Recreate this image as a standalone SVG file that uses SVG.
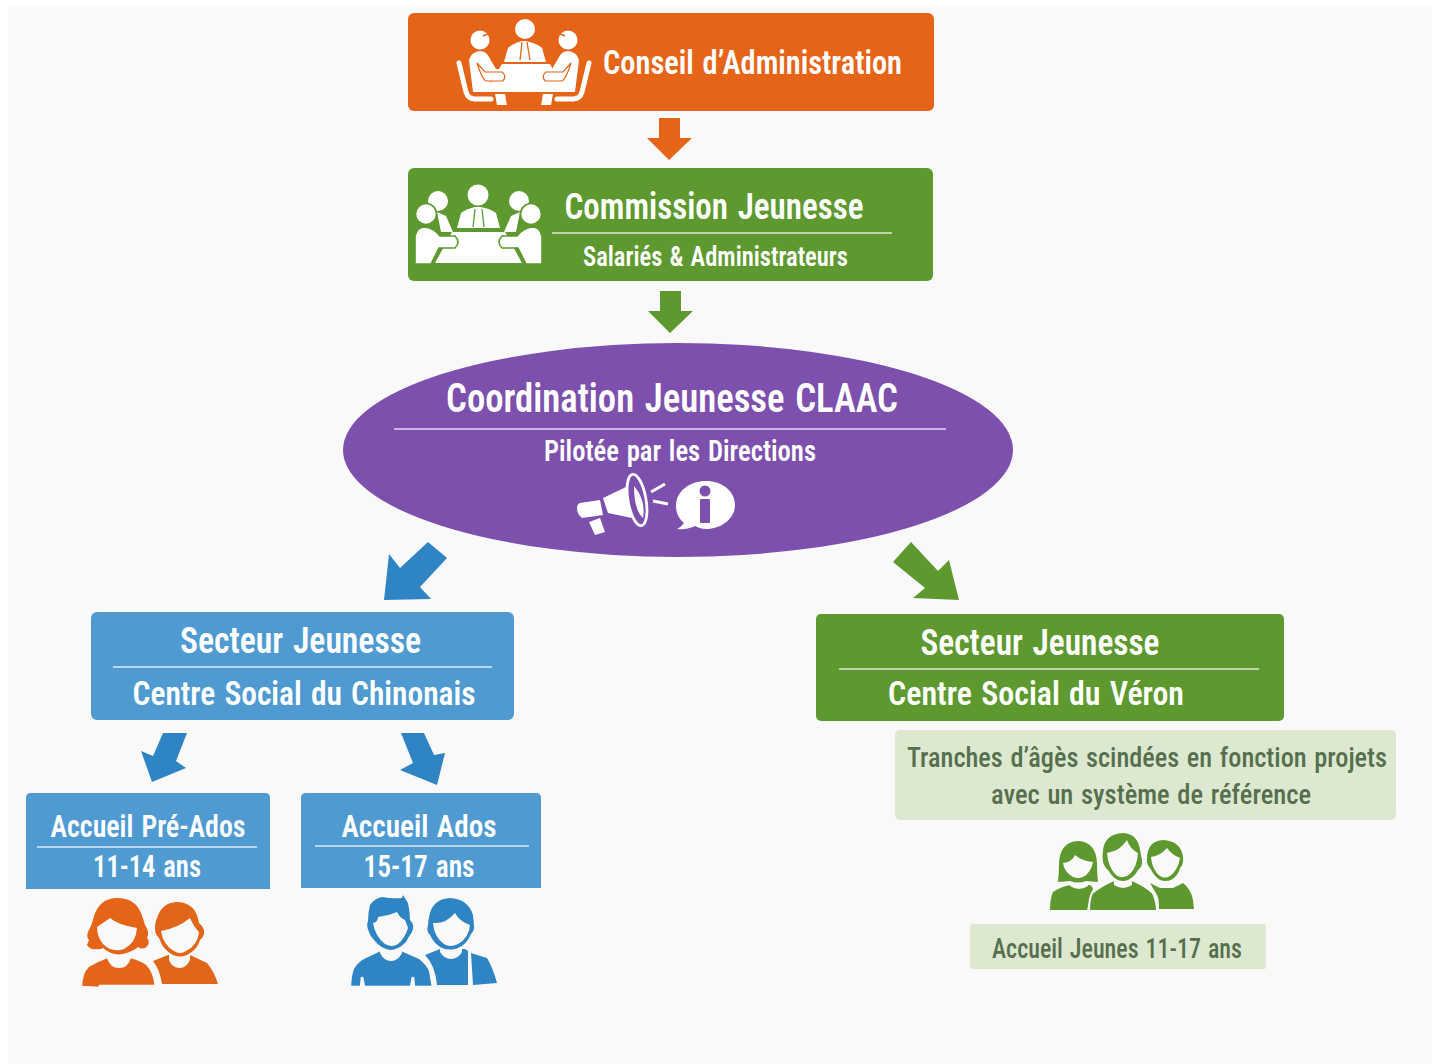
<svg xmlns="http://www.w3.org/2000/svg" width="1432" height="1064" viewBox="0 0 1432 1064">
<style>
text{font-family:"Liberation Sans Narrow","Roboto Condensed","Liberation Sans",sans-serif;font-weight:600;fill:#fff;text-anchor:middle;word-spacing:.06em}
.sub{fill:#566f4e;font-weight:500}
.rule{stroke:#fff;stroke-opacity:.8;stroke-width:1.4;fill:none}
.w{fill:#fff}
.org{fill:#e56417}.grn{fill:#5e992f}.blu{fill:#2f84c3}
.face{fill:#f9f9fa}
</style>
<rect width="1432" height="1064" fill="#fff"/>
<rect x="8" y="6" width="1424" height="1058" fill="#f9f9fa"/>

<g id="connectors">
<path class="org" d="M659 118H680V138H692L669 160L647 138H659Z"/>
<path class="grn" d="M660 291H681V311H693L670 333L648 311H660Z"/>
<path class="blu" d="M428 542L447 558L420 587L431 599L384 600L389 554L400 568Z"/>
<path class="grn" d="M893 562L911 542L938 571L949 560L959 600L913 598L925 588Z"/>
<path class="blu" d="M163 733H187L176 761L186 768L152 782L141 751L153 756Z"/>
<path class="blu" d="M401 733H424L434 755L445 753L437 785L400 770L413 763Z"/>
</g>

<g id="conseil">
<rect x="408" y="13" width="526" height="98" rx="6" fill="#e56417"/>
<circle class="w" cx="525" cy="29" r="10"/>
<path class="w" d="M504 62L508 48Q512 44 522 41L526 41Q538 44 542 48L546 62Z"/>
<path d="M522 42L520 60M527 42L530 60" stroke="#e56417" stroke-width="1.3" fill="none"/>
<path d="M502 64H550L565 92H485Z" class="w"/>
<g id="conseil-side">
<circle class="w" cx="480" cy="40" r="9.5"/>
<path d="M483 36L488 34" stroke="#e56417" stroke-width="1.5"/>
<path class="w" d="M469 60Q471 52 480 51Q486 51 489 57L496 69H503Q506 77 503 81H490L494 92H473Z"/>
<path d="M477 63L485 72H502Q507 76 503 81H486Q482 79 477 63Z" class="w" stroke="#e56417" stroke-width="1.2"/>
<path d="M459 63L466 92Q468 99 475 99H491" fill="none" stroke="#fff" stroke-width="5" stroke-linecap="round"/>
<path class="w" d="M495 94H505L507 105H497Z"/>
</g>
<use href="#conseil-side" transform="translate(1048 0) scale(-1 1)"/>
<text x="752.5" y="74" font-size="34" textLength="299" lengthAdjust="spacingAndGlyphs">Conseil d’Administration</text>
</g>

<g id="commission">
<rect x="408" y="168" width="525" height="113" rx="6" fill="#5e992f"/>
<circle class="w" cx="478" cy="195" r="10.500"/>
<path class="w" d="M457 228L461 213Q466 209 475 207L481 207Q491 209 496 213L500 228Z"/>
<path d="M475 209L473 227M482 209L484 227" stroke="#5e992f" stroke-width="1.300" fill="none"/>
<path class="w" d="M452 232H505L522 263H435Z"/>
<g id="commission-side">
<circle class="w" cx="438" cy="201" r="10"/>
<path class="w" d="M437 212L446 216L453 232L441 232Z"/>
<circle class="w" cx="426" cy="214" r="10.500" stroke="#5e992f" stroke-width="1.600"/>
<path class="w" stroke="#5e992f" stroke-width="1.600" d="M415 264V236Q417 227 425 227Q434 228 440 236H455Q461 242 455 248H439L431 264Z"/>
</g>
<use href="#commission-side" transform="translate(957 0) scale(-1 1)"/>
<text x="714" y="219" font-size="37" textLength="299" lengthAdjust="spacingAndGlyphs">Commission Jeunesse</text>
<path class="rule" d="M552 233H892"/>
<text x="715.5" y="266" font-size="27" textLength="265" lengthAdjust="spacingAndGlyphs">Salariés &amp; Administrateurs</text>
</g>

<g id="coordination">
<ellipse cx="678" cy="450" rx="335" ry="107" fill="#7c50ac"/>
<text x="672" y="412" font-size="40" textLength="452" lengthAdjust="spacingAndGlyphs">Coordination Jeunesse CLAAC</text>
<path class="rule" d="M394 429H946"/>
<text x="680" y="461" font-size="29" textLength="272" lengthAdjust="spacingAndGlyphs">Pilotée par les Directions</text>
<g class="w">
<path d="M577 508Q577 504 580 503L600 500L603 515L582 518Q577 514 577 508Z"/>
<path d="M603 498L626 487L632 518L608 513Z"/>
<path d="M589 522L600 518L605 532L595 535Z"/>
</g>
<ellipse cx="637" cy="500" rx="9" ry="26" transform="rotate(-10 637 500)" fill="#7c50ac" stroke="#fff" stroke-width="2.800"/>
<path class="w" d="M634 486Q646 500 643 518Q634 510 634 486Z"/>
<path d="M651 492L665 484M653 501L668 504" stroke="#fff" stroke-width="3" fill="none"/>
<path class="w" d="M706 481C690 481 676 491 676 506C676 513 679 519 684 523C682 526 679 528 677 529C683 530 691 528 695 526C699 528 702 529 706 529C722 529 735 518 735 505C735 491 722 481 706 481Z"/>
<circle cx="705" cy="491" r="5.500" fill="#7c50ac"/>
<rect x="700" y="499" width="10" height="24" rx="1" fill="#7c50ac"/>
</g>

<g id="secteur-chinonais">
<rect x="91" y="612" width="423" height="108" rx="6" fill="#4f9bd1"/>
<text x="300.500" y="653" font-size="37" textLength="241" lengthAdjust="spacingAndGlyphs">Secteur Jeunesse</text>
<path class="rule" d="M113 667H492"/>
<text x="304" y="705" font-size="34" textLength="343" lengthAdjust="spacingAndGlyphs">Centre Social du Chinonais</text>
</g>

<g id="secteur-veron">
<rect x="816" y="614" width="468" height="107" rx="5" fill="#5e992f"/>
<text x="1040" y="655" font-size="37" textLength="239" lengthAdjust="spacingAndGlyphs">Secteur Jeunesse</text>
<path class="rule" d="M839 669H1259"/>
<text x="1036" y="705" font-size="34" textLength="296" lengthAdjust="spacingAndGlyphs">Centre Social du Véron</text>
</g>

<g id="pre-ados">
<path d="M26 798Q26 793 31 793H265Q270 793 270 798V889H26Z" fill="#4f9bd1"/>
<text x="148" y="837" font-size="31" textLength="195" lengthAdjust="spacingAndGlyphs">Accueil Pré-Ados</text>
<path class="rule" d="M37 847H257"/>
<text x="147" y="877" font-size="31" textLength="108" lengthAdjust="spacingAndGlyphs">11-14 ans</text>
<path fill="#e0661a" d="M153 961L168 955H190L207 963Q214 971 218 984H162Q160 970 153 961Z"/>
<path d="M169 950H190V960Q186 968 180 968Q172 968 169 960Z" class="face"/>
<path fill="#e0661a" d="M178 902Q162 902 157 918Q155 922 155 929Q155 934 159 938Q163 950 173 955Q180 958 187 955Q197 950 200 940Q205 936 204 930Q203 926 199 923Q196 903 178 902Z"/>
<path class="face" d="M161 931Q178 928 190 918Q194 927 199 932Q198 945 186 951Q180 955 174 951Q163 945 161 931Z"/>
<path class="org" stroke="#f9f9fa" stroke-width="2.500" d="M81 987Q81 973 88 966Q96 961 107 957H131Q142 960 147 964Q154 971 156 986H100V988Z"/>
<path class="face" d="M107 950H131V958Q128 968 119 968Q110 968 107 958Z"/>
<path class="org" d="M117 898Q100 898 94 916Q92 924 90 928Q85 936 89 940L87 945Q90 950 96 949Q100 950 103 948Q112 956 123 954Q134 951 138 947Q144 951 148 945Q150 941 147 938Q150 932 145 925Q143 918 141 913Q135 898 117 898Z"/>
<path class="face" d="M97 927L110 918Q118 925 137 928Q136 943 124 949Q112 953 103 944Q97 937 97 927Z"/>
</g>

<g id="ados">
<path d="M301 798Q301 793 306 793H536Q541 793 541 798V888H301Z" fill="#4f9bd1"/>
<text x="419" y="837" font-size="31" textLength="155" lengthAdjust="spacingAndGlyphs">Accueil Ados</text>
<path class="rule" d="M315 846H529"/>
<text x="419" y="877" font-size="31" textLength="111" lengthAdjust="spacingAndGlyphs">15-17 ans</text>
<path class="blu" d="M425 955L440 949H465L468 951V985H437Q435 965 425 955ZM471 953L487 958Q493 968 497 983L473 985Z"/>
<path class="face" d="M440 946H462V952Q458 959 451 959Q444 959 440 952Z"/>
<path class="blu" d="M450 898Q434 899 430 913Q428 920 428 925Q426 931 430 935Q434 944 442 948Q450 951 458 948Q467 944 471 934Q475 930 474 925L473 915Q468 899 450 898Z"/>
<path class="face" d="M433 923Q446 924 455 913Q459 921 470 925Q469 938 458 944Q450 948 444 944Q434 937 433 923Z"/>
<path class="blu" stroke="#f9f9fa" stroke-width="2.500" d="M350 987Q350 976 353 968Q358 960 365 957L380 950H402L420 958Q427 964 430 970L433 987H414L413 977L411 987H364L362 977L361 987Z"/>
<path class="face" d="M380 946H402V953Q398 961 391 961Q384 961 380 953Z"/>
<path class="blu" d="M370 905Q375 898 382 897Q393 899 402 898L403 895L408 903Q410 912 410 920Q415 925 412 932Q408 938 406 942Q398 950 390 950Q380 948 374 940Q370 936 369 932Q366 926 368 921Q368 913 370 905Z"/>
<path class="face" d="M373 923Q378 922 378 917Q388 916 397 912Q400 918 405 920Q407 925 408 928Q405 938 398 944Q392 948 385 944Q375 936 373 923Z"/>
</g>

<g id="tranches">
<rect x="895" y="730" width="501" height="90" rx="5" fill="#dce8cf"/>
<text class="sub" x="1147" y="767" font-size="28" textLength="480" lengthAdjust="spacingAndGlyphs">Tranches d’âgès scindées en fonction projets</text>
<text class="sub" x="1151" y="804" font-size="28" textLength="320" lengthAdjust="spacingAndGlyphs">avec un système de référence</text>
</g>

<g id="jeunes">
<path class="grn" d="M1050 910Q1050 899 1053 892Q1060 887 1070 885H1090L1093 888L1087 910Z"/>
<path class="face" d="M1070 880H1088V886Q1079 892 1070 886Z"/>
<path class="grn" d="M1078 841Q1060 842 1059 863Q1059 873 1058 882L1070 881Q1078 884 1086 881L1098 882Q1097 873 1097 863Q1096 842 1078 841Z"/>
<path class="face" d="M1063 863Q1072 862 1075 855Q1082 861 1093 862Q1091 873 1083 877Q1078 879 1073 877Q1064 872 1063 863Z"/>
<path class="grn" d="M1150 883L1160 888H1173L1183 883Q1191 889 1193 900L1194 909H1159Q1159 898 1157 895Z"/>
<path class="face" d="M1158 878H1172V884Q1165 889 1158 884Z"/>
<path class="grn" d="M1163 840Q1148 841 1147 857Q1146 864 1150 868Q1154 876 1160 880Q1165 882 1171 880Q1178 876 1180 868Q1184 864 1183 857Q1181 841 1163 840Z"/>
<path class="face" d="M1151 857Q1160 856 1167 848Q1172 855 1180 858Q1178 870 1170 876Q1165 879 1160 876Q1152 870 1151 857Z"/>
<path class="grn" stroke="#f9f9fa" stroke-width="2" d="M1089 911Q1089 899 1092 893Q1102 885 1114 880H1132Q1146 886 1153 893Q1157 902 1157 911Z"/>
<path class="face" d="M1114 875H1132V885Q1123 891 1114 885Z"/>
<path class="grn" d="M1123 833Q1105 834 1103 850Q1102 856 1103 862Q1105 868 1108 870Q1113 878 1118 880Q1123 882 1128 880Q1135 876 1138 870Q1143 866 1142 860L1140 850Q1138 834 1123 833Z"/>
<path class="face" d="M1107 853Q1120 851 1127 840Q1130 849 1138 853Q1137 867 1130 874Q1123 880 1116 875Q1108 867 1107 853Z"/>
<rect x="970" y="924" width="296" height="45" rx="2" fill="#dce8cf"/>
<text class="sub" x="1117" y="958" font-size="28" textLength="250" lengthAdjust="spacingAndGlyphs">Accueil Jeunes 11-17 ans</text>
</g>
</svg>
